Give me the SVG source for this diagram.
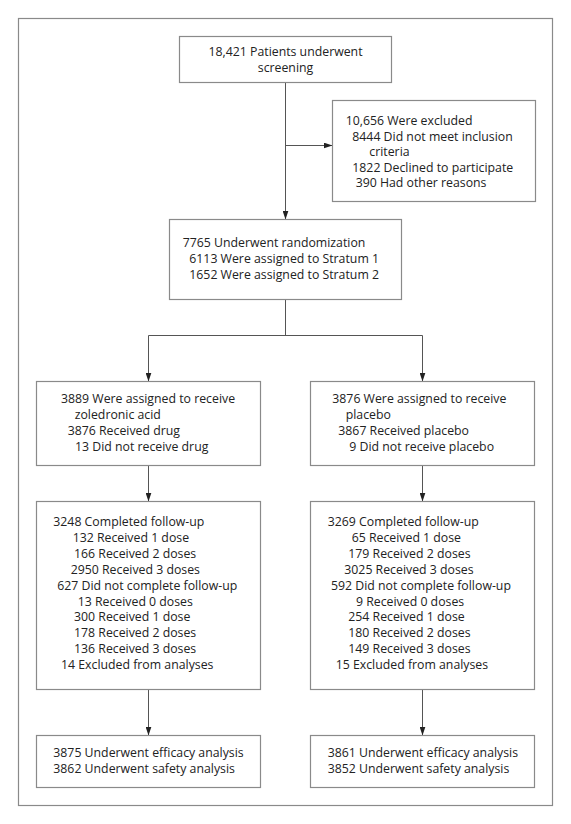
<svg xmlns="http://www.w3.org/2000/svg" width="571" height="824" viewBox="0 0 571 824">
<style>
.frame{fill:#fff;stroke:#8a8a8a;stroke-width:1.2}
.box{fill:#fff;stroke:#8a8a8a;stroke-width:1.2}
.conn{fill:none;stroke:#555;stroke-width:1}
text{font-family:"Open Sans","Noto Sans","Liberation Sans",sans-serif;font-size:12.3px;fill:#222}
.c{text-anchor:middle}
</style>
<defs>
<marker id="ah" viewBox="0 0 9 6" refX="9" refY="3" markerWidth="9" markerHeight="6" markerUnits="userSpaceOnUse" orient="auto">
<path d="M0,0 L9,3 L0,6 z" fill="#222"/>
</marker>
</defs>
<rect class="frame" x="18.5" y="18.5" width="534" height="787"/>
<g id="connectors">
<line class="conn" x1="285.5" y1="82.5" x2="285.5" y2="219.5" marker-end="url(#ah)"/>
<line class="conn" x1="285.5" y1="145.5" x2="332.5" y2="145.5" marker-end="url(#ah)"/>
<polyline class="conn" points="285.5,299.5 285.5,335.5"/>
<polyline class="conn" points="148.5,335.5 422.5,335.5"/>
<line class="conn" x1="148.5" y1="335.5" x2="148.5" y2="381.5" marker-end="url(#ah)"/>
<line class="conn" x1="422.5" y1="335.5" x2="422.5" y2="381.5" marker-end="url(#ah)"/>
<line class="conn" x1="148.5" y1="465.5" x2="148.5" y2="501.5" marker-end="url(#ah)"/>
<line class="conn" x1="422.5" y1="465.5" x2="422.5" y2="501.5" marker-end="url(#ah)"/>
<line class="conn" x1="148.5" y1="689.5" x2="148.5" y2="735.5" marker-end="url(#ah)"/>
<line class="conn" x1="422.5" y1="689.5" x2="422.5" y2="735.5" marker-end="url(#ah)"/>
</g>
<g id="screening">
<rect class="box" x="179.5" y="36.5" width="212" height="46"/>
<text class="c" x="285.5" y="56">18,421 Patients underwent</text>
<text class="c" x="285.5" y="72">screening</text>
</g>
<g id="excluded">
<rect class="box" x="332.5" y="100.5" width="203" height="101"/>
<text x="345.7" y="125">10,656 Were excluded</text>
<text x="352.3" y="140.5">8444 Did not meet inclusion</text>
<text x="369.3" y="156">criteria</text>
<text x="352.3" y="171.5">1822 Declined to participate</text>
<text x="355.7" y="187">390 Had other reasons</text>
</g>
<g id="randomization">
<rect class="box" x="169.5" y="219.5" width="232" height="80"/>
<text x="182.7" y="247">7765 Underwent randomization</text>
<text x="189.3" y="263">6113 Were assigned to Stratum 1</text>
<text x="189.3" y="279">1652 Were assigned to Stratum 2</text>
</g>
<g id="zoledronic">
<rect class="box" x="36.5" y="381.5" width="224" height="84"/>
<text x="61" y="403">3889 Were assigned to receive</text>
<text x="74.7" y="419">zoledronic acid</text>
<text x="67.7" y="435">3876 Received drug</text>
<text x="75" y="451">13 Did not receive drug</text>
</g>
<g id="placebo">
<rect class="box" x="310.5" y="381.5" width="224" height="84"/>
<text x="332.3" y="403">3876 Were assigned to receive</text>
<text x="345.7" y="419">placebo</text>
<text x="338.3" y="435">3867 Received placebo</text>
<text x="349.3" y="451">9 Did not receive placebo</text>
</g>
<g id="followup-drug">
<rect class="box" x="36.5" y="501.5" width="224" height="188"/>
<text x="53.3" y="526">3248 Completed follow-up</text>
<text x="72.7" y="541.9">132 Received 1 dose</text>
<text x="74" y="557.8">166 Received 2 doses</text>
<text x="70.7" y="573.7">2950 Received 3 doses</text>
<text x="57.3" y="589.6">627 Did not complete follow-up</text>
<text x="77.7" y="605.5">13 Received 0 doses</text>
<text x="74" y="621.4">300 Received 1 dose</text>
<text x="74" y="637.3">178 Received 2 doses</text>
<text x="74" y="653.2">136 Received 3 doses</text>
<text x="61" y="669.1">14 Excluded from analyses</text>
</g>
<g id="followup-placebo">
<rect class="box" x="310.5" y="501.5" width="224" height="188"/>
<text x="327.7" y="526">3269 Completed follow-up</text>
<text x="351.7" y="541.9">65 Received 1 dose</text>
<text x="348.3" y="557.8">179 Received 2 doses</text>
<text x="344.3" y="573.7">3025 Received 3 doses</text>
<text x="331" y="589.6">592 Did not complete follow-up</text>
<text x="356" y="605.5">9 Received 0 doses</text>
<text x="348.3" y="621.4">254 Received 1 dose</text>
<text x="348.3" y="637.3">180 Received 2 doses</text>
<text x="348.3" y="653.2">149 Received 3 doses</text>
<text x="335.7" y="669.1">15 Excluded from analyses</text>
</g>
<g id="analysis-drug">
<rect class="box" x="36.5" y="735.5" width="224" height="52"/>
<text x="53.3" y="757">3875 Underwent efficacy analysis</text>
<text x="53.3" y="773">3862 Underwent safety analysis</text>
</g>
<g id="analysis-placebo">
<rect class="box" x="310.5" y="735.5" width="224" height="52"/>
<text x="327.7" y="757">3861 Underwent efficacy analysis</text>
<text x="327.7" y="773">3852 Underwent safety analysis</text>
</g>
</svg>
